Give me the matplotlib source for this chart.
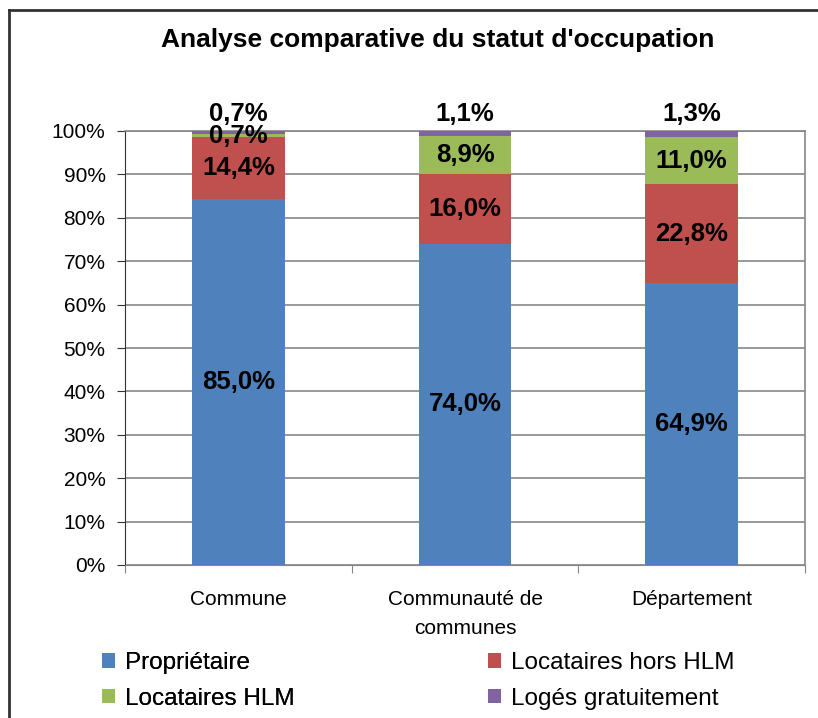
import matplotlib.pyplot as plt
from matplotlib.lines import Line2D
from matplotlib.patches import Patch

plt.rcParams['font.family'] = ['Liberation Sans', 'DejaVu Sans']

# ===== Data =====
categories = ["Commune", "Communauté de\ncommunes", "Département"]
series_names = ["Propriétaire", "Locataires hors HLM", "Locataires HLM", "Logés gratuitement"]
proprietaire = [85.0, 74.0, 64.9]
locataires_hors_hlm = [14.4, 16.0, 22.8]
locataires_hlm = [0.7, 8.9, 11.0]
loges_gratuitement = [0.7, 1.1, 1.3]
colors = ["#4F81BD", "#C0504D", "#9BBB59", "#8064A2"]

series = [proprietaire, locataires_hors_hlm, locataires_hlm, loges_gratuitement]


def fmt(v):
    return f"{v:.1f}%".replace(".", ",")


fig = plt.figure(figsize=(8.18, 7.18), dpi=100)
ax = fig.add_axes([125 / 818, 1 - 565 / 718, 680 / 818, 434 / 718])

x = list(range(len(categories)))
totals = [sum(s[i] for s in series) for i in x]
bottoms = [0.0] * len(x)
for k, (vals, col) in enumerate(zip(series, colors)):
    heights = [vals[i] / totals[i] * 100 for i in x]
    ax.bar(x, heights, bottom=bottoms, width=0.41, color=col, zorder=3)
    for i in x:
        if k == len(series) - 1:
            ypos = 104.0
        else:
            ypos = bottoms[i] + heights[i] / 2
        ax.text(i, ypos, fmt(vals[i]), ha="center", va="center",
                fontsize=18.5, fontweight="bold", zorder=5, clip_on=False)
    bottoms = [b + h for b, h in zip(bottoms, heights)]

# ===== Axes =====
ax.set_xlim(-0.5, 2.5)
ax.set_ylim(0, 100)
ax.set_yticks(range(0, 101, 10))
ax.set_yticklabels([f"{t}%" for t in range(0, 101, 10)], fontsize=15)
ax.yaxis.grid(True, color="#868686", linewidth=1.2, zorder=0)
ax.set_axisbelow(True)
ax.set_xticks([-0.5, 0.5, 1.5, 2.5])
ax.set_xticklabels([])
ax.set_xticks(x, minor=True)
ax.set_xticklabels(categories, minor=True, fontsize=15, linespacing=1.65)
ax.tick_params(axis="x", which="minor", length=0, pad=18)
ax.tick_params(axis="x", which="major", length=6, color="#868686", direction="out")
ax.tick_params(axis="y", length=6, color="#333333", direction="out", pad=8)
for side in ["top", "right"]:
    ax.spines[side].set_color("#868686")
    ax.spines[side].set_linewidth(1.2)
ax.spines["bottom"].set_color("#868686")
ax.spines["left"].set_color("#333333")

fig.text(438 / 818, 1 - 40 / 718, "Analyse comparative du statut d'occupation",
         ha="center", va="center", fontsize=19, fontweight="bold")

# ===== Legend: two columns placed separately =====
handles = [Patch(facecolor=c, edgecolor="none") for c in colors]
leg_kw = dict(loc="center left", frameon=False, fontsize=17.5, handlelength=0.55,
              handleheight=0.55, handletextpad=0.4, labelspacing=0.55,
              borderpad=0, borderaxespad=0)
leg1 = fig.legend([handles[0], handles[2]], [series_names[0], series_names[2]],
                  bbox_to_anchor=(102 / 818, 1 - 681 / 718), **leg_kw)
fig.add_artist(leg1)
fig.legend([handles[1], handles[3]], [series_names[1], series_names[3]],
           bbox_to_anchor=(488 / 818, 1 - 681 / 718), **leg_kw)

# chart outer frame
fig.add_artist(Line2D([9 / 818, 9 / 818], [0, 1 - 10 / 718], color="#333333", linewidth=2))
fig.add_artist(Line2D([9 / 818, 1], [1 - 10 / 718, 1 - 10 / 718], color="#333333", linewidth=2))

fig.savefig("out.png", dpi=100)
